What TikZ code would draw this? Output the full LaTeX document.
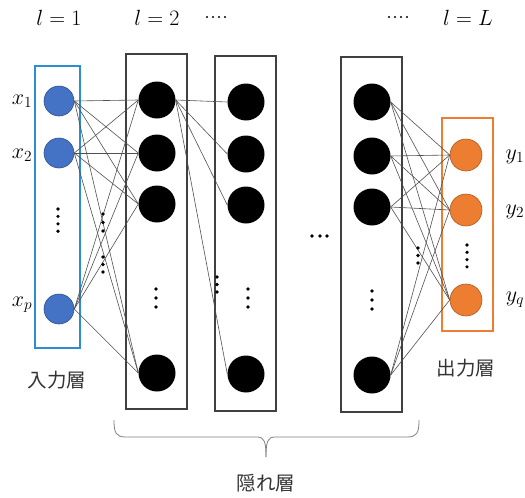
\RequirePackage{fix-cm}
\documentclass[tikz,border=0pt]{standalone}
\usepackage{fontspec}
\newfontfamily\jpfont{Noto Sans CJK JP}
\definecolor{inblue}{RGB}{68,114,196}
\definecolor{inbluedark}{RGB}{47,82,143}
\definecolor{boxblue}{RGB}{46,140,210}
\definecolor{outorange}{RGB}{237,125,49}
\definecolor{outorangedark}{RGB}{174,90,33}
\definecolor{boxgray}{RGB}{64,64,64}
\definecolor{linkgray}{RGB}{80,80,80}
\tikzset{
  inunit/.style={circle, fill=inblue, draw=inbluedark, line width=0.6pt, minimum size=30pt, inner sep=0pt},
  hidunit/.style={circle, fill=black, minimum size=37pt, inner sep=0pt},
  outunit/.style={circle, fill=outorange, draw=outorangedark, line width=0.6pt, minimum size=32pt, inner sep=0pt},
  hidbox/.style={draw=boxgray, line width=1.4pt},
  link/.style={draw=linkgray, line width=0.6pt},
  mlabel/.style={font=\fontsize{22}{26}\selectfont},
  jlabel/.style={font=\jpfont\fontsize{19.5}{23}\selectfont, text=black!80},
}
% column of small dots: x, first y, step, count
\newcommand{\vdotsat}[4]{%
  \foreach \k in {1,...,#4} {\fill (#1, {#2+(\k-1)*#3}) circle (1.8);}}
\begin{document}
\begin{tikzpicture}[x=1pt, y=-1pt]
\useasboundingbox (0,0) rectangle (525,498);

% layer boxes
\draw[boxblue, line width=1.5pt] (35,66) rectangle (80,348);
\draw[hidbox] (126,54) rectangle (187,409);
\draw[hidbox] (215,56) rectangle (276,411);
\draw[hidbox] (341,57) rectangle (402,412);
\draw[outorange, line width=2pt] (442,118) rectangle (493,331);

% input units
\node[inunit] (x1) at (59,101) {};
\node[inunit] (x2) at (59,153) {};
\node[inunit] (xp) at (59,309) {};

% hidden layer l=2
\node[hidunit] (a1) at (157,100) {};
\node[hidunit] (a2) at (157,153) {};
\node[hidunit] (a3) at (157,204) {};
\node[hidunit] (a4) at (157,373) {};

% hidden layer l=3
\node[hidunit] (b1) at (246,102) {};
\node[hidunit] (b2) at (246,154) {};
\node[hidunit] (b3) at (246,205) {};
\node[hidunit] (b4) at (246,374) {};

% hidden layer l=L
\node[hidunit] (c1) at (372,102) {};
\node[hidunit] (c2) at (372,156) {};
\node[hidunit] (c3) at (372,207) {};
\node[hidunit] (c4) at (372,375) {};

% output units
\node[outunit] (y1) at (466,155) {};
\node[outunit] (y2) at (466,210) {};
\node[outunit] (yq) at (466,300) {};

% connections input -> l=2
\foreach \s in {x1,x2,xp} {
  \foreach \t in {a1,a2,a3,a4} {
    \draw[link] (\s.east) -- (\t.west);
  }
}
% connections l=2 -> l=3
\foreach \t in {b1,b2,b3,b4} {
  \draw[link] (a1.east) -- (\t.west);
}
% connections l=L -> output
\foreach \s in {c1,c2,c3,c4} {
  \foreach \t in {y1,y2,yq} {
    \draw[link] (\s.east) -- (\t.west);
  }
}

% ellipsis marks
\vdotsat{58}{209}{7.4}{4}
\vdotsat{103}{214}{8.5}{3}
\vdotsat{103}{257}{7.5}{3}
\vdotsat{156}{289}{9}{3}
\vdotsat{217}{277}{7.5}{3}
\vdotsat{248}{289}{9}{3}
\vdotsat{372}{291}{9}{3}
\vdotsat{418}{248}{7.5}{3}
\vdotsat{467}{245}{7.3}{4}
\foreach \xx in {312,320,327} {\fill (\xx,236) circle (1.8);}

% unit labels
\node[mlabel] (lx1) at (22,101) {$x_1$};
\node[mlabel] (lx2) at (22,155) {$x_2$};
\node[mlabel] (lxp) at (22,305) {$x_p$};
\node[mlabel] (ly1) at (515,157) {$y_1$};
\node[mlabel] (ly2) at (515,212) {$y_2$};
\node[mlabel] (lyq) at (515,300) {$y_q$};

% layer index labels
\node[mlabel] (l1) at (59,18) {$l=1$};
\node[mlabel] (l2) at (157,18) {$l=2$};
\node[mlabel] (lL) at (468,18) {$l=L$};
\foreach \xx in {207,213,219,225,389,395,401,407} {\fill (\xx,17) circle (1.2);}

% layer names
\node[jlabel] (inname) at (57,380) {入力層};
\node[jlabel] (outname) at (466,368) {出力層};
\node[jlabel] (hidname) at (266,483) {隠れ層};

% brace under the hidden layers
\draw[draw=gray, line width=0.8pt]
  (114,420) .. controls (114,433) and (116,437) .. (126,437) -- (257,437)
  .. controls (264,437) and (266,441) .. (266,457);
\draw[draw=gray, line width=0.8pt]
  (419,420) .. controls (419,433) and (417,437) .. (407,437) -- (275,437)
  .. controls (268,437) and (266,441) .. (266,457);
\end{tikzpicture}
\end{document}
